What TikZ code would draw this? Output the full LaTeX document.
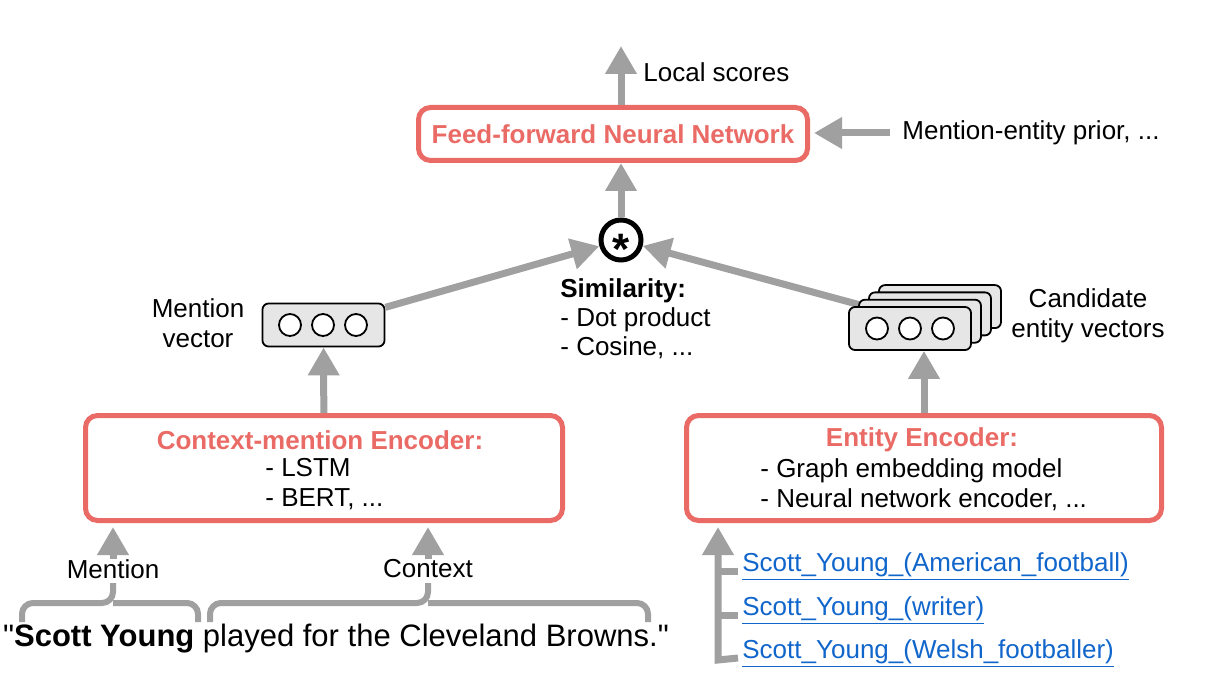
\documentclass[tikz,border=0pt]{standalone}
\usepackage{fontspec}
\setmainfont{Liberation Sans}
\usetikzlibrary{arrows.meta,backgrounds}

\definecolor{boxred}{HTML}{EA6B66}
\definecolor{flowgray}{HTML}{A0A0A0}
\definecolor{vecgray}{HTML}{E6E6E6}
\definecolor{linkblue}{HTML}{1166CC}

\tikzset{
  redbox/.style={draw=boxred, line width=2.5pt, rounded corners=6pt, inner sep=0pt},
  vecbox/.style={draw=black, fill=vecgray, line width=0.9pt, rounded corners=3pt,
    minimum width=61pt, minimum height=21.5pt, inner sep=0pt},
  unit/.style={circle, draw=black, fill=white, line width=0.9pt, minimum size=11pt, inner sep=0pt},
  flow/.style={draw=flowgray, line width=3.5pt, -{Triangle[width=15pt,length=14pt]}},
  bracegray/.style={draw=flowgray, line width=3pt, rounded corners=5.5pt},
  label/.style={inner sep=0pt, font=\fontsize{13}{15}\selectfont},
  redtitle/.style={label, text=boxred, font=\fontsize{13}{15}\selectfont\bfseries},
  linktext/.style={inner sep=2pt, text=linkblue, font=\fontsize{13}{15}\selectfont},
}

\begin{document}
\begin{tikzpicture}[x=0.5pt,y=0.5pt,yscale=-1,xscale=1]
  \useasboundingbox (0,0) rectangle (1223,690);

  % Feed-forward network
  \node[redbox, minimum width=194.5pt, minimum height=26.5pt] (ffnn) at (613,134) {};
  \node[redtitle] (ffnntitle) at (ffnn) {Feed-forward Neural Network};
  \coordinate (scoretop) at (621,46);
  \node[label, anchor=west] (scores) at (643,72) {Local scores};
  \node[label, anchor=west] (prior) at (902,133) {Mention-entity prior, ...};

  % Similarity
  \node[circle, draw=black, line width=2.5pt, minimum size=20pt, inner sep=0pt,
    font=\fontsize{22}{22}\selectfont\bfseries] (sim) at (621,240) {\raisebox{-0.56em}[0pt][0pt]{*}};
  \node[label, anchor=north west, align=left, font=\fontsize{13}{14.5}\selectfont] (simtext) at (560,278)
    {\textbf{Similarity:}\\- Dot product\\- Cosine, ...};

  % Mention vector
  \node[vecbox] (mvec) at (323.5,325) {};
  \foreach \i/\x in {1/290,2/323,3/356}
    \node[unit] (mu\i) at (\x,325) {};
  \node[label, align=center] (mveclabel) at (198,323) {Mention\\vector};

  % Candidate entity vectors
  \foreach \k in {3,2,1}
    \node[vecbox] (cvec\k) at (910+10*\k,328.5-7.3*\k) {};
  \node[vecbox] (cvec) at (910,328.5) {};
  \foreach \i/\x in {1/877,2/910,3/943}
    \node[unit] (cu\i) at (\x,328.5) {};
  \node[label, align=center] (cveclabel) at (1088,316) {Candidate\\entity vectors};

  % Encoders
  \node[redbox, minimum width=238.5pt, minimum height=52.5pt] (ctx) at (324,468) {};
  \node[redtitle] (ctxtitle) at (320,440) {Context-mention Encoder:};
  \node[label, anchor=north west, align=left] (ctxitems) at (265,458) {- LSTM\\- BERT, ...};

  \node[redbox, minimum width=237.5pt, minimum height=52.5pt] (ent) at (924,468) {};
  \node[redtitle] (enttitle) at (922,440) {Entity Encoder:};
  \node[label, anchor=north west, align=left] (entitems) at (760,458) {- Graph embedding model\\- Neural network encoder, ...};

  % Input sentence
  \node[inner sep=0pt, font=\fontsize{15.5}{18}\selectfont] (sentence) at (336,639)
    {\textquotedbl\textbf{Scott Young} played for the Cleveland Browns.\textquotedbl};
  \node[label] (mlab) at (113,569) {Mention};
  \node[label] (clab) at (428,569) {Context};
  \draw[bracegray] (22,622) |- (113,603) -- (113,583);
  \draw[bracegray] (198,622) |- (113,603);
  \draw[bracegray] (210,622) |- (428,603) -- (428,583);
  \draw[bracegray] (648,622) |- (428,603);

  % Candidate links
  \node[linktext, anchor=base west] (link1) at (738,571) {\underline{Scott\_Young\_(American\_football)}};
  \node[linktext, anchor=base west] (link2) at (738,615) {\underline{Scott\_Young\_(writer)}};
  \node[linktext, anchor=base west] (link3) at (738,658) {\underline{Scott\_Young\_(Welsh\_footballer)}};
  \coordinate (bus) at (718,660);

  % Arrows
  \draw[flow] (ffnn.north -| scoretop) -- (scoretop);
  \draw[flow, shorten <=6pt, shorten >=2pt] (prior.west) -- (ffnn.east |- prior.west);
  \draw[flow] (sim) -- (sim |- ffnn.south);
  \draw[flow] (mvec) -- (sim);
  \begin{scope}[on background layer]
    \draw[flow] (cvec1.center) -- (sim);
  \end{scope}
  \draw[flow] (ctx) -- (mvec);
  \draw[flow] (ent.north) -- (ent.north |- cvec.south);
  \draw[flow, shorten >=2pt] (mlab.north) -- (mlab.north |- ctx.south);
  \draw[flow, shorten >=2pt] (clab.north) -- (clab.north |- ctx.south);
  \draw[draw=flowgray, line width=3.5pt] (link1.base west) -- (link1.base west -| bus);
  \draw[draw=flowgray, line width=3.5pt] (link2.base west) -- (link2.base west -| bus);
  \draw[flow, miter limit=4, shorten >=2pt] (link3.base west) -- (bus) -- (bus |- ent.south);
\end{tikzpicture}
\end{document}
